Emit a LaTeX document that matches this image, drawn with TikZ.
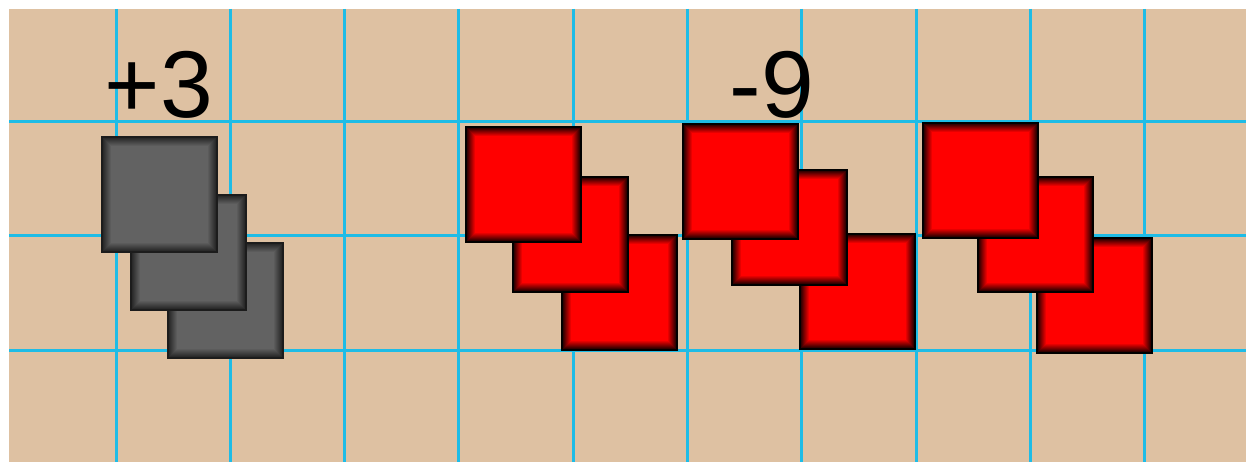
\documentclass[tikz,border=0pt]{standalone}
\usepackage{fontspec}
\setmainfont{Liberation Sans}
\definecolor{woodtan}{RGB}{222,193,162}
\definecolor{gridblue}{RGB}{30,188,230}
\definecolor{tilegray}{RGB}{98,98,98}
\definecolor{grayedge}{RGB}{28,28,28}
\definecolor{tilered}{RGB}{255,0,0}

\newcommand{\tilesq}[4]{%
  \fill[#4] (#1,#2) rectangle ++(117,117);
  \foreach \k in {0,...,8}{
    \pgfmathtruncatemacro{\p}{20+\k*10}
    \fill[#3!\p!#4] ({#1+2+\k},{#2+2+\k}) rectangle ({#1+115-\k},{#2+115-\k});
  }
}

\begin{document}
\begin{tikzpicture}[x=0.02cm,y=-0.02cm]
    \useasboundingbox (0,0) rectangle (1246,462);
    \fill[white] (0,0) rectangle (1246,462);
    \fill[woodtan] (9,9) rectangle (1246,462);

    \foreach \i in {0,...,9}
        \draw[gridblue,line width=3*0.02cm] ({116+114.33*\i},9) -- ({116+114.33*\i},462);
    \foreach \j in {0,1,2}
        \draw[gridblue,line width=3*0.02cm] (9,{122+114*\j}) -- (1246,{122+114*\j});

    \tilesq{167}{242}{tilegray}{grayedge}
    \tilesq{130}{194}{tilegray}{grayedge}
    \tilesq{101}{136}{tilegray}{grayedge}

    \tilesq{561}{234}{tilered}{black}
    \tilesq{512}{176}{tilered}{black}
    \tilesq{465}{126}{tilered}{black}

    \tilesq{799}{233}{tilered}{black}
    \tilesq{731}{169}{tilered}{black}
    \tilesq{682}{123}{tilered}{black}

    \tilesq{1036}{237}{tilered}{black}
    \tilesq{977}{176}{tilered}{black}
    \tilesq{922}{122}{tilered}{black}

    \node[anchor=base,inner sep=0pt,font=\fontsize{54}{60}\selectfont] (plusthree) at (159,118) {+3};
    \node[anchor=base,inner sep=0pt,font=\fontsize{54}{60}\selectfont] (minusnine) at (772,118) {-9};
\end{tikzpicture}
\end{document}
